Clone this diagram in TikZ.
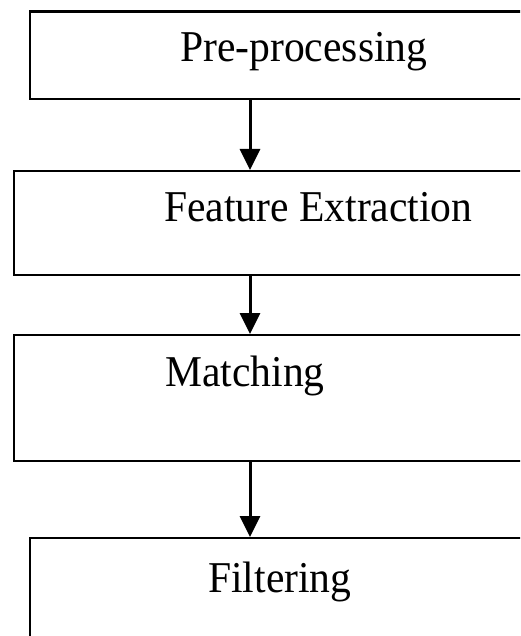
\documentclass[tikz,border=0pt]{standalone}
\usepackage{fontspec}
\setmainfont{Liberation Serif}[FakeStretch=0.945]
\usetikzlibrary{arrows.meta}
\tikzset{
  stagebox/.style={draw=black, line width=2.2pt, rectangle, inner sep=0pt, anchor=north west},
  lbl/.style={inner sep=0pt, anchor=base west, font=\fontsize{44}{50}\selectfont},
  flowarrow/.style={line width=3pt, -{Triangle[length=21pt,width=20pt]}}
}
\begin{document}
\begin{tikzpicture}[x=1pt,y=-1pt]
\useasboundingbox (0,0) rectangle (520,636);
\clip (0,0) rectangle (520,636);
\node[stagebox, minimum width=530pt, minimum height=87.5pt] (b1) at (28.5,10.5) {};
\node[stagebox, minimum width=545pt, minimum height=104pt] (b2) at (13,170) {};
\node[stagebox, minimum width=545pt, minimum height=126pt] (b3) at (13,334) {};
\node[stagebox, minimum width=530pt, minimum height=140pt] (b4) at (28.5,537) {};
\node[lbl] (t1) at (180,62) {Pre-processing};
\node[lbl] (t2) at (164,222) {Feature Extraction};
\node[lbl] (t3) at (165,386) {Matching};
\node[lbl] (t4) at (208,592) {Filtering};
\coordinate (ax) at (250,0);
\draw[flowarrow] (b1.south -| ax) -- (b2.north -| ax);
\draw[flowarrow] (b2.south -| ax) -- (b3.north -| ax);
\draw[flowarrow] (b3.south -| ax) -- (b4.north -| ax);
\end{tikzpicture}
\end{document}
